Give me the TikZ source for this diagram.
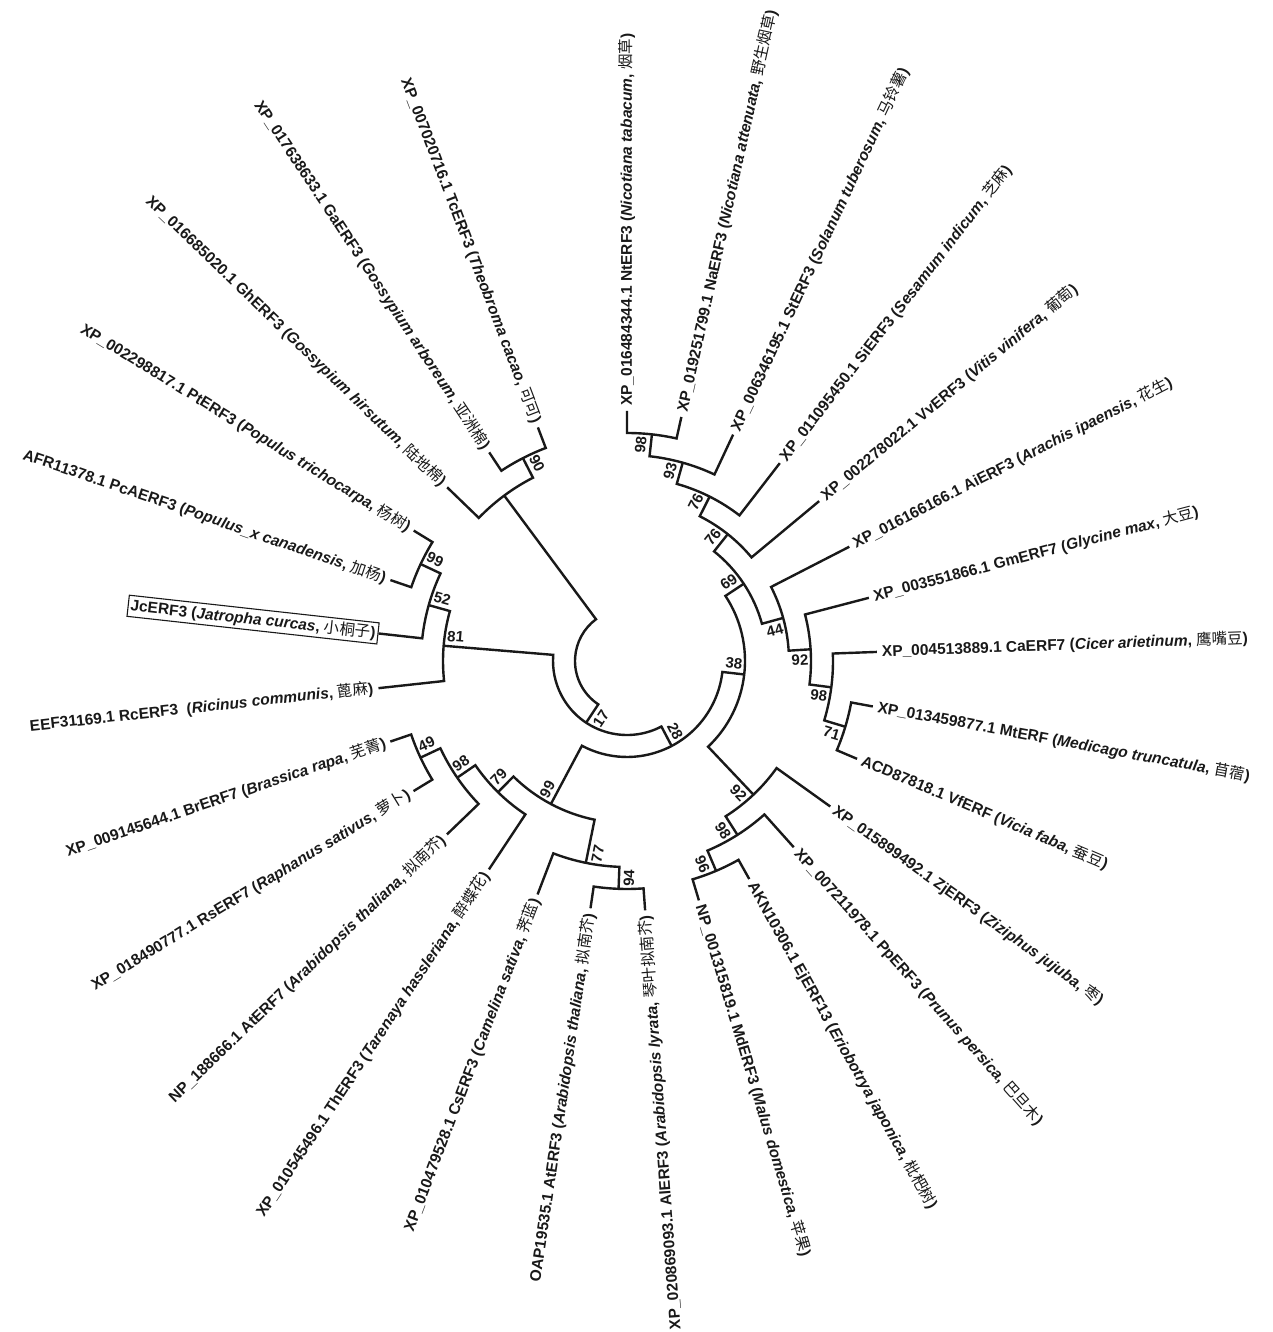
\documentclass[tikz,border=0pt]{standalone}
\usepackage{fontspec}
\setmainfont{Liberation Sans}
\newfontfamily\cjk{Noto Sans CJK SC}
\newcommand\angstep{12.56}
\newcommand\zh[1]{{\cjk\mdseries #1}}
% clade: child1 index, child2 index, node height, child1 height, child2 height
\newcommand\Cl[5]{%
  \draw[br] ({90-\angstep*(#1)}:{250-22*(#4)}) -- ({90-\angstep*(#1)}:{250-22*(#3)})
    arc[start angle={90-\angstep*(#1)}, end angle={90-\angstep*(#2)}, radius={250-22*(#3)}]
    -- ({90-\angstep*(#2)}:{250-22*(#5)});}
\newcommand\leafR[3]{\node[lbl, anchor=west, rotate={90-\angstep*(#1)}] (#2) at ({90-\angstep*(#1)}:255) {#3};}
\newcommand\leafL[3]{\node[lbl, anchor=east, rotate={270-\angstep*(#1)}] (#2) at ({90-\angstep*(#1)}:255) {#3};}
% bootstrap: index, height, side (+1 ccw, -1 cw), name, text
\newcommand\bs[5]{\node[bslbl, rotate={ifthenelse(#1<13.5,90-\angstep*(#1),270-\angstep*(#1))}] (#4)
  at ({90-\angstep*(#1)+(#3)*573/(239-22*(#2))}:{239-22*(#2)}) {#5};}
\begin{document}
\begin{tikzpicture}[x=1pt,y=1pt,
  br/.style={line width=2.4pt, draw=black!90},
  lbl/.style={font=\fontsize{15.5}{18}\selectfont\bfseries, inner sep=0pt, text=black!90},
  bslbl/.style={font=\fontsize{15}{18}\selectfont\bfseries, inner sep=0pt, text=black!90}]
\fill[white] (-627,-671) rectangle (646,661);
\useasboundingbox (-627,-671) rectangle (646,661);
% ---- tree ----
\Cl{0}{1}{1}{0}{0}
\Cl{0.5}{2}{2}{1}{0}
\Cl{1.25}{3}{3}{2}{0}
\Cl{2.125}{4}{4}{3}{0}
\Cl{8}{9}{1}{0}{0}
\Cl{7}{8.5}{2}{0}{1}
\Cl{6}{7.75}{3}{0}{2}
\Cl{5}{6.875}{4}{0}{3}
\Cl{3.0625}{5.9375}{5}{4}{4}
\Cl{12}{13}{1}{0}{0}
\Cl{11}{12.5}{2}{0}{1}
\Cl{10}{11.75}{3}{0}{2}
\Cl{4.5}{10.875}{6}{5}{3}
\Cl{14}{15}{1}{0}{0}
\Cl{14.5}{16}{2}{1}{0}
\Cl{19}{20}{1}{0}{0}
\Cl{18}{19.5}{2}{0}{1}
\Cl{17}{18.75}{3}{0}{2}
\Cl{15.25}{17.875}{4}{2}{3}
\Cl{7.6875}{16.5625}{7}{6}{4}
\Cl{23}{24}{1}{0}{0}
\Cl{22}{23.5}{2}{0}{1}
\Cl{21}{22.75}{3}{0}{2}
\Cl{12.125}{21.875}{8}{7}{3}
\Cl{26}{27}{1}{0}{0}
\Cl{25}{26.5}{2}{0}{1}
\Cl{17}{25.75}{9}{8}{2}
% ---- leaves ----
\leafR{0}{l0}{XP\_016484344.1 NtERF3 (\textit{Nicotiana tabacum}, \zh{烟草})}
\leafR{1}{l1}{XP\_019251799.1 NaERF3 (\textit{Nicotiana attenuata}, \zh{野生烟草})}
\leafR{2}{l2}{XP\_006346195.1 StERF3 (\textit{Solanum tuberosum}, \zh{马铃薯})}
\leafR{3}{l3}{XP\_011095450.1 SiERF3 (\textit{Sesamum indicum}, \zh{芝麻})}
\leafR{4}{l4}{XP\_002278022.1 VvERF3 (\textit{Vitis vinifera}, \zh{葡萄})}
\leafR{5}{l5}{XP\_016166166.1 AiERF3 (\textit{Arachis ipaensis}, \zh{花生})}
\leafR{6}{l6}{XP\_003551866.1 GmERF7 (\textit{Glycine max}, \zh{大豆})}
\leafR{7}{l7}{XP\_004513889.1 CaERF7 (\textit{Cicer arietinum}, \zh{鹰嘴豆})}
\leafR{8}{l8}{XP\_013459877.1 MtERF (\textit{Medicago truncatula}, \zh{苜蓿})}
\leafR{9}{l9}{ACD87818.1 VfERF (\textit{Vicia faba}, \zh{蚕豆})}
\leafR{10}{l10}{XP\_015899492.1 ZjERF3 (\textit{Ziziphus jujuba}, \zh{枣})}
\leafR{11}{l11}{XP\_007211978.1 PpERF3 (\textit{Prunus persica}, \zh{巴旦木})}
\leafR{12}{l12}{AKN10306.1 EjERF13 (\textit{Eriobotrya japonica}, \zh{枇杷树})}
\leafR{13}{l13}{NP\_001315819.1 MdERF3 (\textit{Malus domestica}, \zh{苹果})}
\leafL{14}{l14}{XP\_020869093.1 AlERF3 (\textit{Arabidopsis lyrata}, \zh{琴叶拟南芥})}
\leafL{15}{l15}{OAP19535.1 AtERF3 (\textit{Arabidopsis thaliana}, \zh{拟南芥})}
\leafL{16}{l16}{XP\_010479528.1 CsERF3 (\textit{Camelina sativa}, \zh{荠蓝})}
\leafL{17}{l17}{XP\_010545496.1 ThERF3 (\textit{Tarenaya hassleriana}, \zh{醉蝶花})}
\leafL{18}{l18}{NP\_188666.1 AtERF7 (\textit{Arabidopsis thaliana}, \zh{拟南芥})}
\leafL{19}{l19}{XP\_018490777.1 RsERF7 (\textit{Raphanus sativus}, \zh{萝卜})}
\leafL{20}{l20}{XP\_009145644.1 BrERF7 (\textit{Brassica rapa}, \zh{芜菁})}
\leafL{21}{l21}{EEF31169.1 RcERF3\ \ (\textit{Ricinus communis}, \zh{蓖麻})}
\node[lbl, draw=black!90, line width=1.1pt, inner sep=2.5pt, anchor=east, rotate={270-\angstep*22}] (l22)
  at ({90-\angstep*22}:250) {JcERF3 (\textit{Jatropha curcas}, \zh{小桐子})};
\leafL{23}{l23}{AFR11378.1 PcAERF3 (\textit{Populus\_x canadensis}, \zh{加杨})}
\leafL{24}{l24}{XP\_002298817.1 PtERF3 (\textit{Populus trichocarpa}, \zh{杨树})}
\leafL{25}{l25}{XP\_016685020.1 GhERF3 (\textit{Gossypium hirsutum}, \zh{陆地棉})}
\leafL{26}{l26}{XP\_017638633.1 GaERF3 (\textit{Gossypium arboreum}, \zh{亚洲棉})}
\leafL{27}{l27}{XP\_007020716.1 TcERF3 (\textit{Theobroma cacao}, \zh{可可})}
% ---- bootstrap values ----
\bs{0.5}{1}{1}{bI}{98}
\bs{1.25}{2}{1}{bH}{93}
\bs{2.125}{3}{1}{bG}{76}
\bs{3.0625}{4}{1}{bF}{76}
\bs{4.5}{5}{1}{bE}{69}
\bs{5.9375}{4}{-1}{bFF}{44}
\bs{6.875}{3}{-1}{bGl}{92}
\bs{7.75}{2}{-1}{bHl}{98}
\bs{8.5}{1}{-1}{bIl}{71}
\bs{7.6875}{6}{1}{bD}{38}
\bs{10.875}{3}{-1}{bGr}{92}
\bs{11.75}{2}{-1}{bHr}{98}
\bs{12.5}{1}{-1}{bIr}{96}
\bs{12.125}{7}{1}{bC}{28}
\bs{16.5625}{4}{-1}{bBr}{99}
\bs{15.25}{2}{1}{bAr}{77}
\bs{14.5}{1}{1}{bAl}{94}
\bs{17.875}{3}{-1}{bTh}{79}
\bs{18.75}{2}{-1}{bAt}{98}
\bs{19.5}{1}{-1}{bRs}{49}
\bs{17}{8}{1}{bB}{17}
\bs{21.875}{3}{-1}{bEu}{81}
\bs{22.75}{2}{-1}{bJc}{52}
\bs{23.5}{1}{-1}{bPo}{99}
\bs{26.5}{1}{-1}{bMa}{90}
\end{tikzpicture}
\end{document}
